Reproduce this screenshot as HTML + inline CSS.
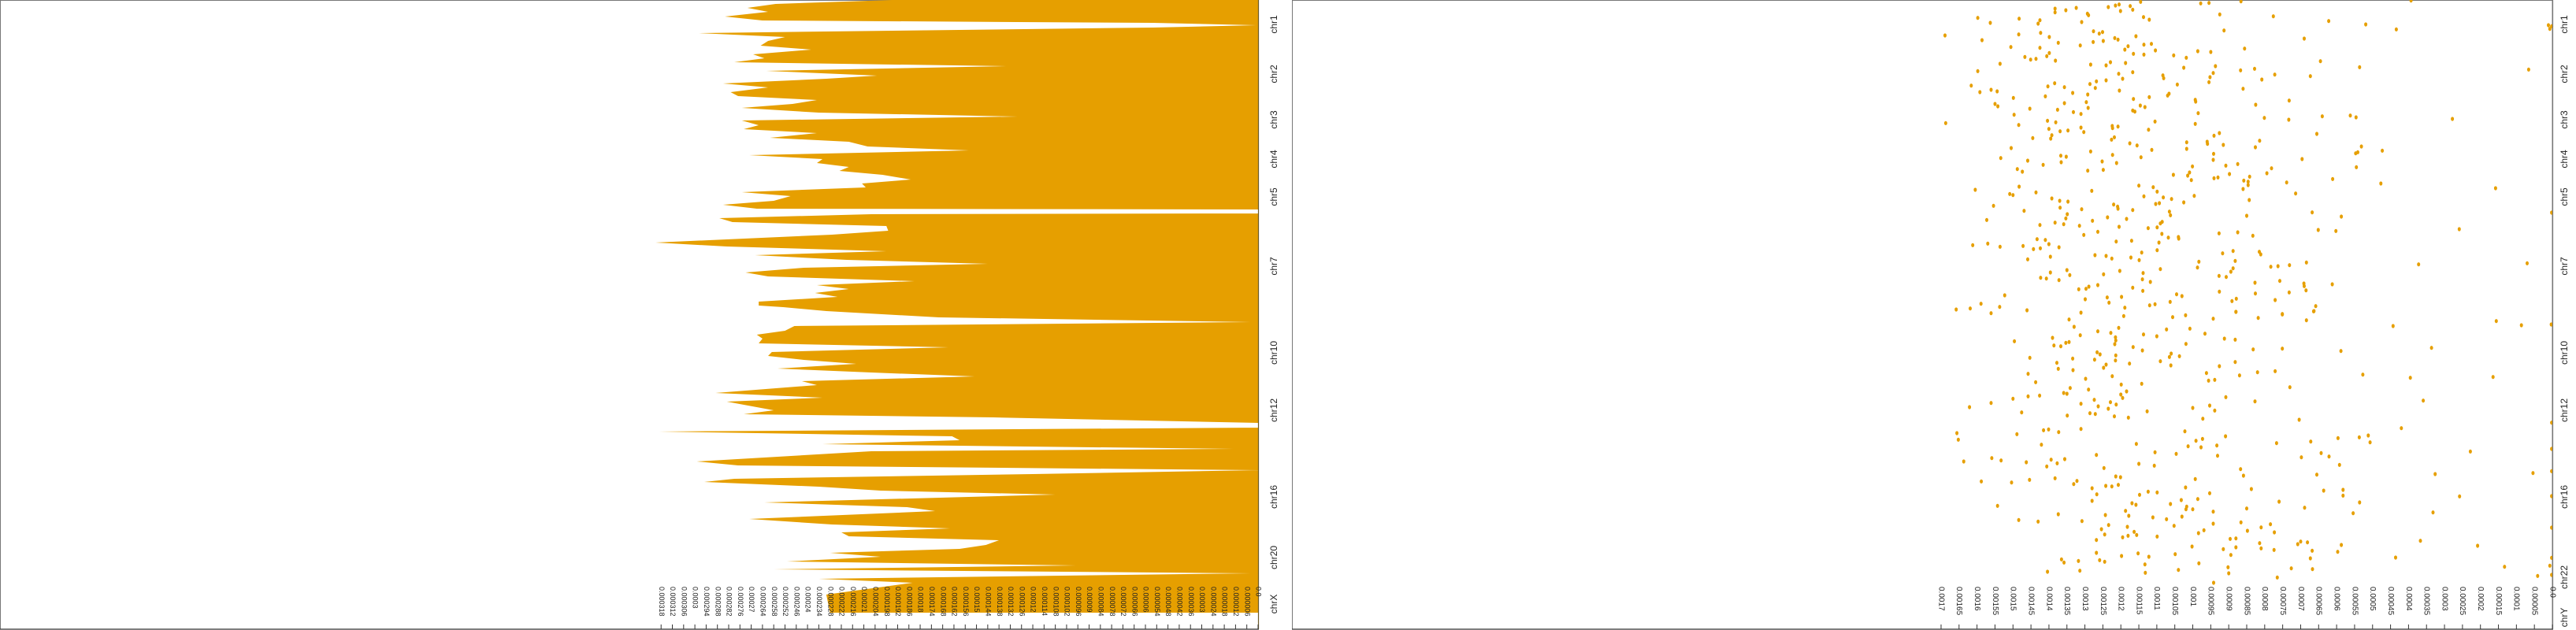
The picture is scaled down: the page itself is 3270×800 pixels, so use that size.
<!DOCTYPE html>
<html><head><meta charset="utf-8"><style>
html,body{margin:0;padding:0;background:#fff;}
svg{display:block;font-family:"Liberation Sans","DejaVu Sans",sans-serif;}
</style></head><body>
<svg id="chart" width="3270" height="800" viewBox="0 0 3270 800" xmlns="http://www.w3.org/2000/svg">
<rect x="0" y="0" width="3270" height="800" fill="#fff"/>
<g id="left"></g>
<g id="right"></g>
</svg>
<script>
// ---- Left panel data (bin index 0..778, value in 1e-6) ----
const leftBins = [0,5,10,15,21,26,29,32,35,42,47,52,58,63,69,74,79,84,90,96,100,106,111,117,122,127,132,137,143,148,153,159,164,169,175,180,186,191,197,202,207,212,217,222,228,233,238,244,249,255,260,265,266,271,272,277,282,287,293,298,308,313,319,324,330,335,340,346,351,357,362,367,372,377,383,388,390,395,403,409,414,420,425,430,436,441,447,452,457,462,468,473,478,484,489,499,505,510,521,526,530,537,543,548,554,559,564,570,573,586,591,597,602,608,612,618,623,628,638,644,649,659,666,671,676,681,686,692,697,702,707,713,718,723,728,735,740,755,778];
const leftVals = [195,257,272,261,284,264,56,1,56,298,252,261,265,238,269,263,279,134,262,203,230,285,261,281,277,235,248,275,234,128,275,266,274,235,260,218,208,154,271,232,235,218,223,200,185,211,209,275,249,258,285,267,0,0,206,287,280,198,197,227,321,283,198,268,219,144,242,273,261,183,235,218,236,224,266,266,253,230,170,4,247,252,267,264,266,165,259,261,242,214,256,206,151,243,235,289,232,283,258,274,141,0,0,319,163,159,232,13,206,299,277,0,120,279,295,234,201,108,263,187,172,271,227,164,222,218,138,145,159,228,201,251,97,258,4,234,184,230,228];
const leftTickVals = [0,6,12,18,24,30,36,42,48,54,60,66,72,78,84,90,96,102,108,114,120,126,132,138,144,150,156,162,168,174,180,186,192,198,204,210,216,222,228,234,240,246,252,258,264,270,276,282,288,294,300,306,312,318];
const leftChroms = ["chr1","chr2","chr3","chr4","chr5","chr7","chr10","chr12","chr16","chr20","chrX"];
const leftChromBins = [31,94,152,202,250,338,448,521,631,708,767];

// ---- Right panel data (position 0..2334, value in 1e-6) ----
const rightPos = [135,469,68,87,71,153,131,179,243,271,326,351,342,348,396,405,373,437,476,414,526,564,602,644,654,612,628,723,784,838,934,928,940,803,711,739,743,733,937,949,946,911,914,988,978,930,942,1058,1061,1067,1038,1125,1157,1175,1179,1193,1182,1169,33,47,39,30,90,77,125,141,163,182,202,214,231,224,227,217,329,317,332,367,418,393,354,427,434,389,360,411,460,466,491,500,515,528,497,486,503,593,597,618,756,765,768,791,816,832,848,854,860,797,857,895,883,841,828,727,577,615,647,650,84,52,58,119,128,122,160,156,173,246,249,237,320,310,335,306,27,21,17,42,23,37,7,65,75,145,151,189,176,205,138,170,167,192,208,240,281,300,275,345,377,421,425,402,408,370,480,488,482,532,523,546,554,599,571,463,494,590,621,779,787,795,800,834,864,869,866,851,845,774,777,752,713,730,748,707,920,917,972,975,985,981,991,962,953,924,891,905,903,909,806,820,758,771,746,1032,1045,1086,1092,1100,1102,1140,1029,1048,1133,1153,1131,1096,1108,1040,1064,1074,1025,1172,1191,1163,1159,1150,1121,1128,211,220,258,287,298,322,364,357,195,198,252,278,294,313,380,387,431,472,542,567,634,657,669,686,666,540,548,517,507,552,586,609,631,663,625,676,679,13,11,5,55,116,185,268,262,338,303,284,62,147,80,93,112,2,233,290,256,383,456,449,399,443,440,447,453,510,536,561,606,558,580,584,574,637,641,660,673,688,692,705,720,695,737,682,699,717,762,822,809,825,876,880,873,889,885,898,965,956,994,959,969,1022,1035,1055,1051,1019,997,1016,1014,1010,1000,1007,1003,1077,1070,1080,1090,1106,1083,1118,1114,1143,1138,1147,1111,1166,1186,1196,1188,265,96,110,
1208,1201,1214,1188,1211,1198,1220,1185,1242,1223,1239,1236,1217,1245,1277,1287,1316,1319,1306,1303,1300,1363,1424,1456,1510,1507,1519,1535,1551,1571,1382,1405,1366,1410,1443,1484,1478,1497,1500,1583,1538,1574,1577,1523,1548,1557,1532,1541,1586,1591,1567,1503,1516,1491,1465,1433,1389,1401,1370,1342,1350,1354,1373,1311,1297,1285,1268,1249,1204,1262,1322,1385,1335,1274,1281,1255,1462,1376,1360,1347,1357,1392,1310,1252,1271,1421,1450,1447,1395,1290,1294,1379,1430,1513,1331,1418,1529,1414,1328,1475,1337,1427,1439,1325,1526,1436,1554,1545,1564,1595,1599,1631,1666,1659,1685,1669,1682,1688,1726,1742,1739,1771,1808,1720,1806,1802,1787,1812,1863,1911,1934,1869,1866,1888,1914,1955,1891,1952,1937,1990,2022,2009,1997,2028,2069,2089,2095,2073,2063,2066,2098,2127,2168,2102,2076,2060,2079,2124,2159,2155,2194,2165,2200,2053,2051,2092,2114,2085,2161,2184,2220,1643,1679,1672,1700,1704,1697,1736,1662,1729,1723,1774,1691,1767,1733,1783,1650,1675,1758,1745,1754,1761,1751,1777,1765,1749,1639,1636,1646,1694,1634,1654,1834,1838,1828,1822,1844,1832,1860,1883,1908,1851,1853,1847,1815,1818,1885,1873,1876,1917,1923,1946,1965,1962,2000,2016,2036,2057,2041,2047,2026,2038,2007,1971,2044,1978,2003,1920,1968,1940,1930,1905,1857,1825,1901,1940,1879,1949,1995,2020,2031,2082,2146,2171,2111,2150,2182,2121,2108,2118,2106,2134,2140,2131,2143,2137,2174,2178,1927,1981,1987,1959,1985,
100,810,1610,1710,1795,1890,2010,2125,2190];
const rightVals = [1689,1687,1598,1563,1483,1586,1484,1506,1536,1598,1616,1592,1561,1544,1550,1542,1499,1497,1484,1453,1445,1505,1534,1488,1474,1459,1416,1605,1554,1573,1612,1570,1536,1469,1483,1509,1500,1436,1472,1443,1424,1433,1410,1459,1396,1400,1372,1423,1407,1372,1396,1523,1589,1619,1658,1561,1461,1537,1383,1383,1353,1324,1430,1425,1423,1399,1374,1425,1399,1406,1382,1436,1451,1467,1403,1384,1357,1410,1376,1357,1334,1332,1311,1296,1292,1291,1404,1381,1400,1369,1392,1395,1347,1311,1303,1367,1352,1366,1392,1370,1347,1369,1349,1353,1383,1359,1315,1309,1425,1303,1264,1279,1237,1281,1284,1252,1249,1292,1309,1293,1290,1276,1260,1251,1277,1249,1313,1284,1241,1229,1286,1268,1271,1241,1235,1215,1205,1201,1174,1167,1145,1137,1121,1217,1208,1189,1180,1165,1158,1136,1115,1104,1136,1187,1206,1195,1167,1204,1165,1167,1161,1146,1133,1121,1224,1223,1208,1226,1218,1175,1155,1144,1114,1105,1123,1223,1212,1220,1209,1208,1167,1184,1205,1124,1099,1090,1085,1093,1103,1082,1110,1099,1136,1150,1213,1170,1272,1241,1225,1172,1149,1142,1099,1094,1086,1068,1040,1039,1065,1062,1059,1025,996,1203,1248,1264,1289,1297,1317,1299,1350,1342,1238,1233,1198,1167,1139,1138,1140,1118,1090,1189,1311,1120,1105,1063,1045,1030,1053,1018,1025,1083,1081,1043,1070,1066,986,950,937,943,952,955,993,992,985,993,1017,1017,1001,1009,1014,1004,1054,960,959,941,926,915,942,943,908,898,875,930,941,978,955,866,925,913,856,867,828,860,808,772,776,690,622,519,434,393,645,673,536,732,733,801,825,640,562,546,278,655,814,826,696,531,541,547,473,545,781,794,842,858,846,846,860,739,714,611,477,158,843,850,668,587,651,602,259,927,875,833,917,888,882,815,811,888,894,907,927,987,983,783,763,731,684,372,70,827,758,691,690,685,612,826,732,771,879,891,926,658,664,751,880,66,11,7,
1056,1020,943,880,818,751,684,663,443,156,86,3,1344,1330,1313,1390,1386,1367,1353,1344,1496,1453,1458,1437,1458,1426,1500,1561,1621,1476,1378,1374,1334,1333,1298,1290,1341,1359,1350,1349,1311,1286,1271,1274,1263,1235,1229,1213,1218,1179,1127,1200,1195,1184,1199,1224,1241,1248,1273,1266,1258,1214,1215,1217,1214,1215,1228,1206,1192,1264,1166,1176,1140,1137,1100,1073,1142,1090,1065,1060,1037,1061,1019,1008,966,962,956,939,926,912,882,882,870,908,832,820,827,771,751,730,588,527,395,336,359,165,1000,953,939,972,704,420,537,512,507,596,672,767,643,698,621,592,655,228,326,54,867,859,837,760,689,636,582,582,536,554,258,332,850,866,848,810,784,773,814,810,774,708,700,681,668,673,667,597,587,367,208,436,133,7,41,726,765,896,880,915,894,880,902,900,942,1022,991,973,1013,977,933,931,909,1046,1105,1107,1157,1150,1268,1247,1656,1652,1637,1559,1533,1463,1394,1406,1377,1356,1415,1401,1373,1421,1311,1489,1588,1504,1454,1383,1331,1322,1280,1267,1280,1242,1225,1207,1214,1201,1148,1124,1099,1169,1158,1187,1178,1243,1234,1254,1245,1268,1180,1195,1163,1156,1182,1111,1099,1073,1052,1062,1030,1019,1017,1032,1020,993,986,1000,953,943,943,969,984,1002,983,1040,1049,1133,1132,1122,1152,1198,1268,1259,1245,1365,1358,1318,1314,1404,1543,1484,1430,1374,1308,
2,2,2,2,2,2,2,2,2];
const rightTickVals = [1700,1650,1600,1550,1500,1450,1400,1350,1300,1250,1200,1150,1100,1050,1000,950,900,850,800,750,700,650,600,550,500,450,400,350,300,250,200,150,100,50,0];
const rightChroms = ["chr1","chr2","chr3","chr4","chr5","chr7","chr10","chr12","chr16","chr22","chrY"];
const rightChromPos = [93,282,456,606,750,1014,1344,1563,1893,2199,2352];

const NS = "http://www.w3.org/2000/svg";
const ORANGE = "#E69F00";
function mk(tag, attrs, parent) {
  const e = document.createElementNS(NS, tag);
  for (const k in attrs) e.setAttribute(k, attrs[k]);
  parent.appendChild(e);
  return e;
}
function fmt(v) { // v in 1e-6
  if (v === 0) return "0.0";
  let s = (v / 1e6).toFixed(6).replace(/0+$/, "");
  return s;
}
// ---- scales ----
const L = {x0: 1597, pxPerUnit: 2.383, yTop: 0, yPerBin: 1};
function lx(v) { return L.x0 - v * L.pxPerUnit; }
function ly(b) { return L.yTop + b * L.yPerBin; }
const R = {x0: 3240, pxPerUnit: 0.45647, yPerPos: 778 / 2334};
function rx(v) { return R.x0 - v * R.pxPerUnit; }
function ry(p) { return p * R.yPerPos; }

// ---- Left panel ----
const left = document.getElementById("left");
const lframe = mk("rect", {x: 0.5, y: 0.5, width: 1597, height: 798.5, fill: "none", stroke: "#777", "stroke-width": 1}, left);


let pts = [L.x0 + "," + ly(0)];
for (let i = 0; i < leftBins.length; i++) pts.push(lx(leftVals[i]).toFixed(1) + "," + ly(leftBins[i]).toFixed(1));
pts.push(L.x0 + "," + ly(leftBins[leftBins.length - 1]));
const area = mk("polygon", {points: pts.join(" "), fill: ORANGE, stroke: "none"}, left);


const laxis = mk("line", {x1: 0, y1: 799, x2: 1598, y2: 799, stroke: "#333", "stroke-width": 1.2}, left);


const lraxis = mk("line", {x1: 1597.5, y1: 0, x2: 1597.5, y2: 799, stroke: "#6b5a2a", "stroke-width": 1.2}, left);


for (const t of leftTickVals) {
  const x = lx(t);
  const tk = mk("line", {x1: x, y1: 793, x2: x, y2: 799, stroke: "#333", "stroke-width": 1}, left);
  
  
  const tx = mk("text", {x: 0, y: 0, "font-size": 9, fill: "#222", "dominant-baseline": "middle", transform: "translate(" + x + ",745) rotate(90)"}, left);
  tx.textContent = fmt(t);
  
  
}
for (let i = 0; i < leftChroms.length; i++) {
  const y = ly(leftChromBins[i]);
  const tx = mk("text", {x: 0, y: 0, "font-size": 12, fill: "#222", "text-anchor": "middle", "dominant-baseline": "middle", transform: "translate(1618," + y + ") rotate(-90)"}, left);
  tx.textContent = leftChroms[i];
  
  
}

// ---- Right panel ----
const right = document.getElementById("right");
const rframe = mk("rect", {x: 1640.5, y: 0.5, width: 1599.5, height: 798.5, fill: "none", stroke: "#777", "stroke-width": 1}, right);


for (let i = 0; i < rightPos.length; i++) {
  const d = mk("ellipse", {cx: rx(rightVals[i]).toFixed(1), cy: ry(rightPos[i]).toFixed(1), rx: 2, ry: 2.6, fill: ORANGE}, right);
  
  
}
const raxis = mk("line", {x1: 1640, y1: 799, x2: 3241, y2: 799, stroke: "#333", "stroke-width": 1.2}, right);


const rraxis = mk("line", {x1: 3240.5, y1: 0, x2: 3240.5, y2: 799, stroke: "#777", "stroke-width": 1.2}, right);


for (const t of rightTickVals) {
  const x = rx(t);
  const tk = mk("line", {x1: x, y1: 793, x2: x, y2: 799, stroke: "#333", "stroke-width": 1}, right);
  
  
  const tx = mk("text", {x: 0, y: 0, "font-size": 10, fill: "#222", "dominant-baseline": "middle", transform: "translate(" + x + ",745) rotate(90)"}, right);
  tx.textContent = fmt(t);
  
  
}
for (let i = 0; i < rightChroms.length; i++) {
  const y = ry(rightChromPos[i]);
  const tx = mk("text", {x: 0, y: 0, "font-size": 12, fill: "#222", "text-anchor": "middle", "dominant-baseline": "middle", transform: "translate(3256," + y + ") rotate(-90)"}, right);
  tx.textContent = rightChroms[i];
  
  
}
</script>
</body></html>
